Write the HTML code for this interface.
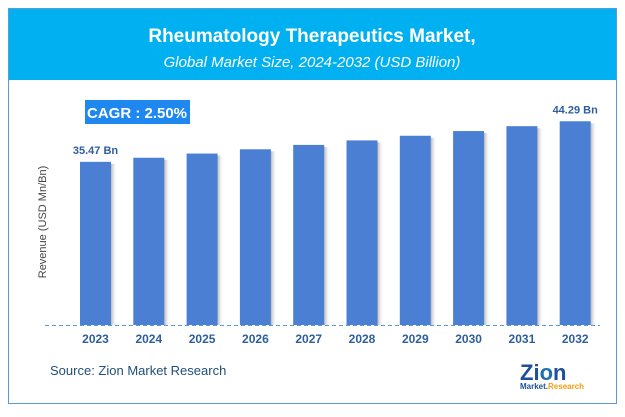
<!DOCTYPE html>
<html><head><meta charset="utf-8"><style>
body{margin:0;width:625px;height:412px;background:#fff;font-family:"Liberation Sans",sans-serif;overflow:hidden}
</style></head><body>
<svg width="625" height="412" xmlns="http://www.w3.org/2000/svg">
<defs><linearGradient id="sh" x1="0" x2="1"><stop offset="0" stop-color="#999" stop-opacity="0.7"/><stop offset="1" stop-color="#fff" stop-opacity="0"/></linearGradient></defs>
<rect x="8.5" y="8.5" width="608" height="395" fill="#fff" stroke="#5b9bd5" stroke-width="1"/>
<rect x="9" y="9" width="607" height="71" fill="#00b0f0"/>
<text x="312" y="42" text-anchor="middle" font-size="19" font-weight="bold" fill="#fff">Rheumatology Therapeutics Market,</text>
<text x="312" y="67" text-anchor="middle" font-size="15" font-style="italic" fill="#fff">Global Market Size, 2024-2032 (USD Billion)</text>
<rect x="85" y="100" width="105" height="24" fill="#1e88f0"/>
<text x="137" y="118" text-anchor="middle" font-size="15" font-weight="bold" fill="#fff">CAGR :  2.50%</text>
<text x="46" y="222" text-anchor="middle" font-size="11" fill="#444" transform="rotate(-90 46 222)">Revenue (USD Mn/Bn)</text>
<g id="bars"></g>
<line x1="45" y1="325.5" x2="600" y2="325.5" stroke="#5b9bd5" stroke-dasharray="4,3"/>
<text x="50" y="375" font-size="13" fill="#1f4e79">Source: Zion Market Research</text>
<g>
<text x="520" y="380" font-size="22" font-weight="bold" fill="#1f4e9a">Zi<tspan fill="#1f6fb0">o</tspan>n</text>
<text x="520" y="389" font-size="8" font-weight="bold" fill="#1f4e9a">Market.<tspan fill="#f39c12">Research</tspan></text>
</g>
</svg>
<script>
const categories=["2023","2024","2025","2026","2027","2028","2029","2030","2031","2032"];
const values=[35.47,36.36,37.27,38.20,39.15,40.13,41.14,42.16,43.22,44.29];
const valueLabels=["35.47 Bn","","","","","","","","","44.29 Bn"];
const ns="http://www.w3.org/2000/svg";
const g=document.getElementById('bars');
const x0=80,step=53.3,bw=31,base=325,k=4.6;
function xs(i){return x0+i*step;}
function ys(v){return base-v*k;}
categories.forEach((c,i)=>{
 const x=xs(i),y=ys(values[i]);
 const s=document.createElementNS(ns,'rect');
 s.setAttribute('x',x+bw);s.setAttribute('y',y+2);s.setAttribute('width',6);s.setAttribute('height',base-y-2);s.setAttribute('fill','url(#sh)');
 
 
 g.appendChild(s);
 const r=document.createElementNS(ns,'rect');
 r.setAttribute('x',x);r.setAttribute('y',y);r.setAttribute('width',bw);r.setAttribute('height',base-y);r.setAttribute('fill','#4a7fd4');
 
 
 g.appendChild(r);
 const t=document.createElementNS(ns,'text');
 t.setAttribute('x',x+bw/2);t.setAttribute('y',343);t.setAttribute('text-anchor','middle');t.setAttribute('font-size','12');t.setAttribute('font-weight','bold');t.setAttribute('fill','#2e5e9e');
 t.textContent=c;
 
 
 g.appendChild(t);
 if(valueLabels[i]){
  const l=document.createElementNS(ns,'text');
  l.setAttribute('x',x+bw/2);l.setAttribute('y',y-8);l.setAttribute('text-anchor','middle');l.setAttribute('font-size','11');l.setAttribute('font-weight','bold');l.setAttribute('fill','#2e5e9e');
  l.textContent=valueLabels[i];
  
  
  g.appendChild(l);
 }
});
</script>
</body></html>
